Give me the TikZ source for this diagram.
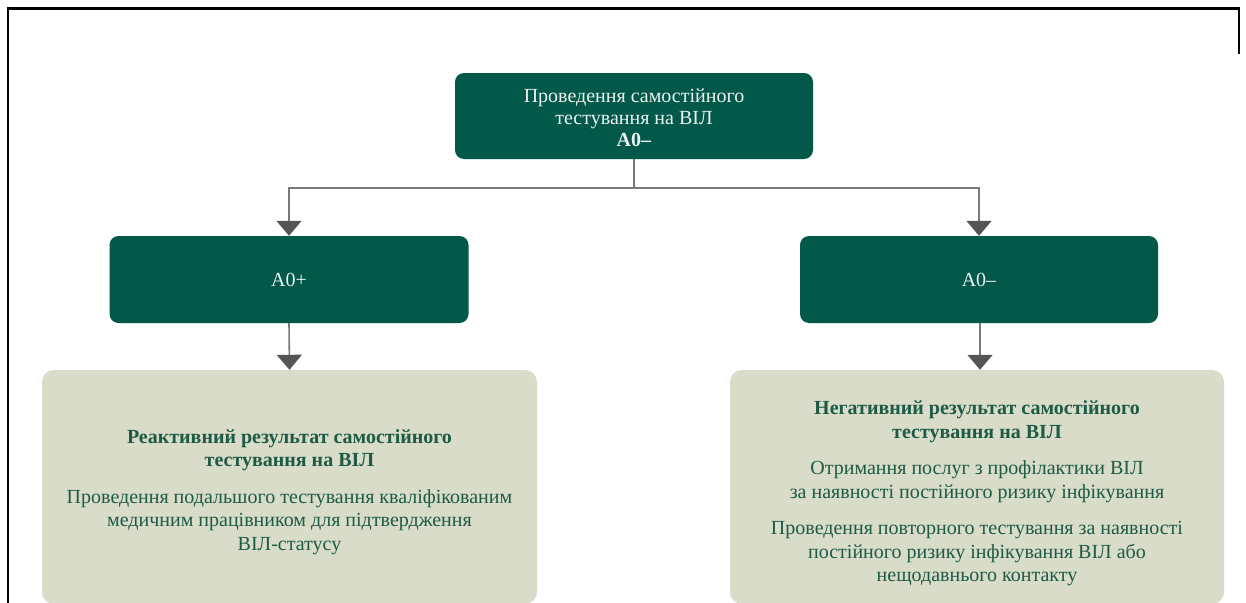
\documentclass[tikz,border=0pt]{standalone}
\usepackage{fontspec}
\setmainfont{Liberation Serif}
\usetikzlibrary{arrows.meta}
\definecolor{darkgreen}{HTML}{02594A}
\definecolor{sage}{HTML}{D8DCC9}
\definecolor{inkgreen}{HTML}{1D5B45}
\definecolor{wire}{HTML}{7A7A7A}
\definecolor{tipgray}{HTML}{555555}
\tikzset{
  x=1pt, y=-1pt,
  darkbox/.style={draw=none, fill=darkgreen, rounded corners=9pt, inner sep=0pt},
  lighttext/.style={text=white!92!darkgreen, font=\fontsize{20}{22}\selectfont, align=center, inner sep=0pt},
  lightbox/.style={draw=none, fill=sage, rounded corners=12pt, inner sep=0pt},
  bodytext/.style={text=inkgreen, font=\fontsize{20}{23.5}\selectfont, align=center, inner sep=0pt, anchor=north},
  wireline/.style={draw=wire, line width=1.6pt},
  flow/.style={wireline, -{Triangle[width=25pt,length=15pt,fill=tipgray,color=tipgray]}},
}
\begin{document}
\begin{tikzpicture}
\useasboundingbox (0,0) rectangle (1246,602);
% outer frame lines
\draw[line width=2.2pt, line cap=rect] (8,602) -- (8,8.5) -- (1239,8.5) -- (1239,53);

% boxes
\node[darkbox, minimum width=358pt, minimum height=86pt] (top) at (634,116) {};
\node[lighttext] (toptext) at (634,118)
  {Проведення самостійного\\тестування на ВІЛ\\\textbf{A0–}};
\node[darkbox, minimum width=359pt, minimum height=87pt] (pos) at (289,279.5) {};
\node[lighttext] (postext) at (289,279.5) {A0+};
\node[darkbox, minimum width=358pt, minimum height=87pt] (neg) at (979,279.5) {};
\node[lighttext] (negtext) at (979,279.5) {A0–};

\node[lightbox, minimum width=495pt, minimum height=234pt] (posres) at (289.5,487) {};
\node[lightbox, minimum width=494pt, minimum height=234pt] (negres) at (977,487) {};

\node[bodytext] (posbody) at (289.5,429)
  {\textbf{Реактивний результат самостійного}\\\textbf{тестування на ВІЛ}\\[13pt]
   Проведення подальшого тестування кваліфікованим\\медичним працівником для підтвердження\\ВІЛ-статусу};
\node[bodytext] (negbody) at (977,400.5)
  {\textbf{Негативний результат самостійного}\\\textbf{тестування на ВІЛ}\\[13pt]
   Отримання послуг з профілактики ВІЛ\\за наявності постійного ризику інфікування\\[13pt]
   Проведення повторного тестування за наявності\\постійного ризику інфікування ВІЛ або\\нещодавнього контакту};

% connectors
\coordinate (split) at (634,188);
\draw[wireline] (top.south) -- (split);
\draw[flow] (split) -| (pos.north);
\draw[flow] (split) -| (neg.north);
\draw[flow] (pos.south) -- (posres.north);
\draw[flow] ([xshift=1pt]neg.south) -- ([xshift=3pt]negres.north);
\end{tikzpicture}
\end{document}
